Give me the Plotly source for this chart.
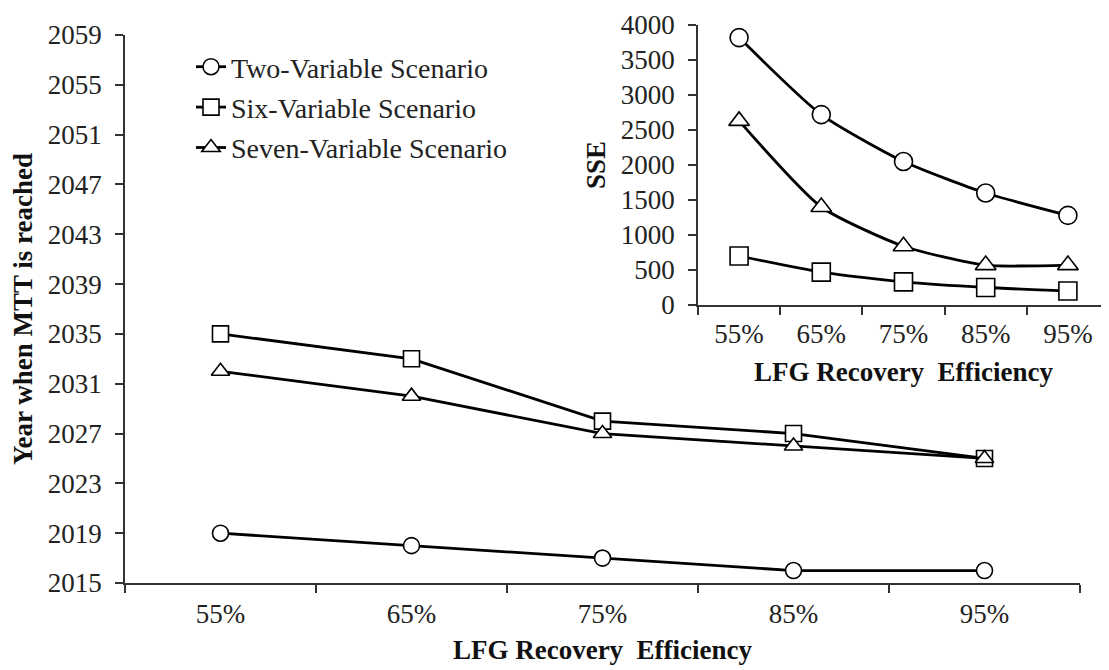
import plotly.graph_objects as go

categories = ["55%", "65%", "75%", "85%", "95%"]
year_two = [2019, 2018, 2017, 2016, 2016]
year_six = [2035, 2033, 2028, 2027, 2025]
year_seven = [2032, 2030, 2027, 2026, 2025]
sse_two = [3820, 2720, 2050, 1600, 1280]
sse_six = [700, 470, 330, 250, 200]
sse_seven = [2630, 1400, 840, 570, 570]
year_ticks = list(range(2015, 2060, 4))
sse_ticks = list(range(0, 4001, 500))

# page body has an 8px default margin; size the figure so it fills the window
OFF = 8
W, H = 1109 - OFF, 670 - OFF
FONT = "'Liberation Serif', 'Times New Roman', Times, serif"
FS = 27
AX = "#333333"

def px_x(p):
    return (p - OFF) / W

def px_y(p):
    return 1 - (p - OFF) / H

names = ["Two-Variable Scenario", "Six-Variable Scenario", "Seven-Variable Scenario"]
symbols = ["circle", "square", "triangle-up"]
main_vals = [year_two, year_six, year_seven]
sse_vals = [sse_two, sse_six, sse_seven]

fig = go.Figure()
for i in range(3):
    fig.add_trace(go.Scatter(
        x=categories, y=main_vals[i], name=names[i], mode="lines+markers",
        line=dict(color="black", width=2.8),
        marker=dict(symbol=symbols[i], size=16, color="white",
                    line=dict(color="black", width=1.6)),
        xaxis="x", yaxis="y", legendgroup=names[i], showlegend=True,
    ))
for i in range(3):
    fig.add_trace(go.Scatter(
        x=categories, y=sse_vals[i], name=names[i], mode="lines+markers",
        line=dict(color="black", width=2.8, shape="spline", smoothing=0.6),
        marker=dict(symbol=symbols[i], size=18, color="white",
                    line=dict(color="black", width=1.6)),
        xaxis="x2", yaxis="y2", legendgroup=names[i], showlegend=False,
    ))

tickfont = dict(family=FONT, size=FS, color="#222222")
titlefont = dict(family=FONT, size=FS, color="#111111", weight="bold")

common = dict(ticks="outside", ticklen=8, tickcolor=AX, tickwidth=1.5,
              showline=True, linecolor=AX, linewidth=1.5,
              showgrid=False, zeroline=False, tickfont=tickfont,
              automargin=False, ticklabeloverflow="allow")

fig.update_layout(
    width=W, height=H,
    margin=dict(l=0, r=0, t=0, b=0, autoexpand=False),
    paper_bgcolor="white", plot_bgcolor="rgba(0,0,0,0)",
    font=dict(family=FONT, size=FS, color="#222222"),
    xaxis=dict(
        domain=[px_x(125), px_x(1080)], anchor="y",
        type="category", range=[-0.5, 4.5], tickson="boundaries",
        ticklabelstandoff=6,
        title=dict(text="LFG Recovery  Efficiency", font=titlefont, standoff=12),
        **common,
    ),
    yaxis=dict(
        domain=[px_y(583), px_y(35)], anchor="x",
        range=[2015, 2059], tickvals=year_ticks,
        ticklabelstandoff=8,
        title=dict(text="Year when MTT is reached", font=titlefont, standoff=18),
        **common,
    ),
    xaxis2=dict(
        domain=[px_x(698), 1.0], anchor="y2",
        type="category", range=[-0.5, 4.5], tickson="boundaries",
        ticklabelstandoff=4,
        title=dict(text="LFG Recovery  Efficiency", font=titlefont, standoff=14),
        **common,
    ),
    yaxis2=dict(
        domain=[px_y(305), px_y(25)], anchor="x2",
        range=[0, 4000], tickvals=sse_ticks,
        ticklabelstandoff=8,
        title=dict(text="SSE", font=titlefont, standoff=7),
        **common,
    ),
    legend=dict(
        x=px_x(191), y=px_y(42), xanchor="left", yanchor="top",
        font=dict(family=FONT, size=28, color="#222222"),
        bgcolor="rgba(0,0,0,0)", borderwidth=0, tracegroupgap=1,
        itemwidth=30,
    ),
    showlegend=True,
)

fig.write_html("out.html")
